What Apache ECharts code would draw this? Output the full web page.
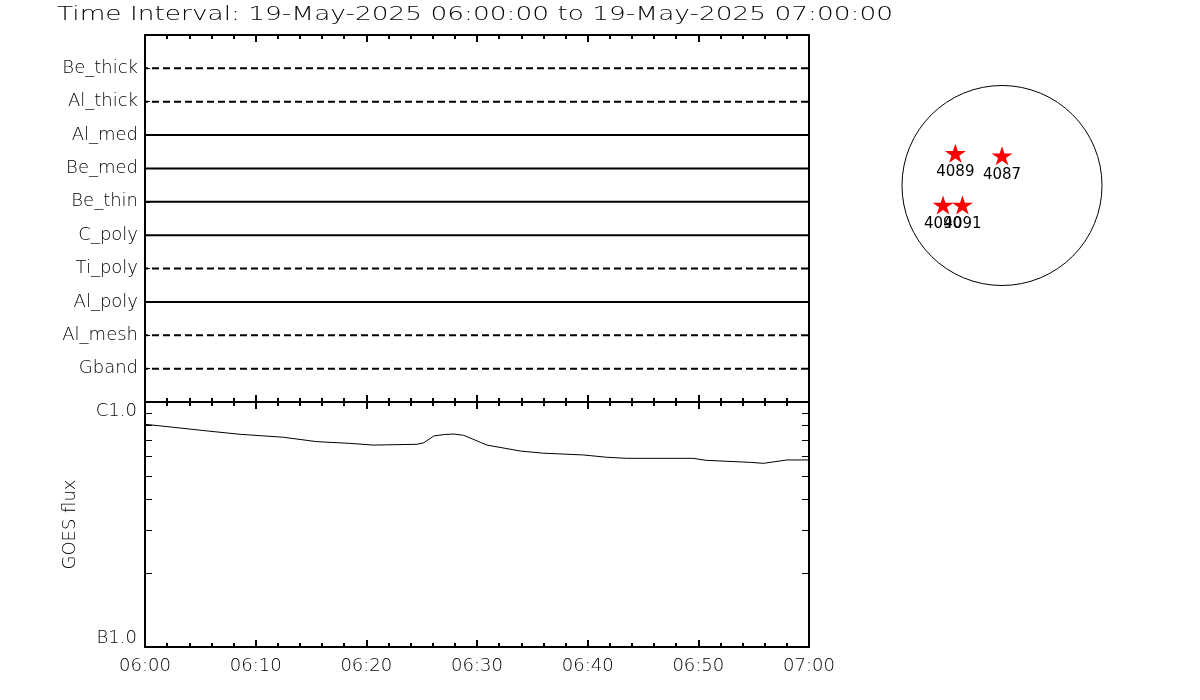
<!DOCTYPE html>
<html><head><meta charset="utf-8">
<script src="https://cdn.jsdelivr.net/npm/echarts@6/dist/echarts.min.js"></script>
<style>html,body{margin:0;padding:0;background:#fff}#c{width:1200px;height:700px}</style>
</head><body><div id="c"></div>
<script>
// ---------------- data ----------------
const titleText = 'Time Interval: 19-May-2025 06:00:00 to 19-May-2025 07:00:00';
const channels = ['Be_thick','Al_thick','Al_med','Be_med','Be_thin','C_poly','Ti_poly','Al_poly','Al_mesh','Gband'];
const channelActive = [false,false,true,true,true,true,false,true,false,false];
const timeLabels = ['06:00','06:10','06:20','06:30','06:40','06:50','07:00'];
const goesMinutes = [0, 2.6, 5.6, 8.6, 12.5, 15.5, 18.5, 20.6, 24.6, 25.2, 26.1, 27.0, 27.9, 28.8, 30.3, 30.9, 33.9, 36.0, 39.6, 41.7, 43.5, 49.5, 50.7, 54.7, 55.9, 58.0, 60];
const goesFlux = [8.11e-7, 7.88e-7, 7.62e-7, 7.38e-7, 7.18e-7, 6.89e-7, 6.78e-7, 6.67e-7, 6.72e-7, 6.82e-7, 7.27e-7, 7.36e-7, 7.40e-7, 7.31e-7, 6.85e-7, 6.67e-7, 6.31e-7, 6.18e-7, 6.08e-7, 5.95e-7, 5.89e-7, 5.89e-7, 5.78e-7, 5.67e-7, 5.62e-7, 5.80e-7, 5.80e-7];
const fluxTicks = [1e-7, 2e-7, 3e-7, 4e-7, 5e-7, 6e-7, 7e-7, 8e-7, 9e-7, 1e-6];
const fluxLabelValues = [1e-7, 1e-6];
const fluxLabels = ['B1.0', 'C1.0'];
const regionIds = ['4089', '4087', '4090', '4091'];
const regionX = [-443, 0, -560, -376];
const regionY = [306, 283, -185, -185];
const RSUN = 950;

// ---------------- layout / style ----------------
const FONT = "'DejaVu Sans', sans-serif";
const FW = 200;
const AXW = 2;
const chart = echarts.init(document.getElementById('c'), null, {renderer: 'canvas'});

const ctx = document.createElement('canvas').getContext('2d');
ctx.font = FW + ' 19px "DejaVu Sans"';
const titleScale = 836 / ctx.measureText(titleText).width;

function timeAxis(gridIndex, position, showLabel) {
  return {
    type: 'value', gridIndex: gridIndex, position: position, min: 0, max: 60, interval: 10,
    axisLine: {show: true, onZero: false, lineStyle: {color: '#000', width: AXW}},
    axisTick: {show: true, inside: true, length: 7, lineStyle: {color: '#000', width: 2}},
    minorTick: {show: true, splitNumber: 5, length: 4, lineStyle: {color: '#000', width: 2}},
    splitLine: {show: false}, minorSplitLine: {show: false},
    axisLabel: {show: showLabel, margin: 10, color: '#000', fontFamily: FONT, fontWeight: FW, fontSize: 18,
      formatter: function (v) { return timeLabels[Math.round(v / 10)]; }}
  };
}
function fluxAxis(position, showLabel) {
  return {
    type: 'log', logBase: 10, gridIndex: 1, position: position, min: 1e-7, max: 1e-6,
    axisLine: {show: true, onZero: false, lineStyle: {color: '#000', width: AXW}},
    axisTick: {show: true, inside: true, length: 7, customValues: fluxTicks, lineStyle: {color: '#000', width: 1}},
    splitLine: {show: false},
    axisLabel: {show: showLabel, customValues: fluxLabelValues, margin: 8, color: '#000', fontFamily: FONT, fontWeight: FW, fontSize: 18,
      verticalAlignMinLabel: 'bottom', verticalAlignMaxLabel: 'top',
      formatter: function (v) { return v > 5e-7 ? fluxLabels[1] : fluxLabels[0]; }},
    name: showLabel ? 'GOES flux' : '', nameLocation: 'middle', nameGap: 66, nameRotate: 90,
    nameTextStyle: {color: '#000', fontFamily: FONT, fontWeight: FW, fontSize: 18}
  };
}

const channelSeries = channels.map(function (name, i) {
  const level = channels.length - i;
  return {
    type: 'line', name: name, xAxisIndex: 0, yAxisIndex: 0, silent: true,
    showSymbol: false, symbol: 'none', animation: false,
    data: [[0, level], [60, level]],
    lineStyle: {color: '#000', width: 2, type: channelActive[i] ? 'solid' : [7, 4], dashOffset: -7}
  };
});

const starPath = 'path://M50,0 L61,35 L98,35 L68,57 L79,91 L50,70 L21,91 L32,57 L2,35 L39,35 Z';

const option = {
  backgroundColor: '#fff',
  animation: false,
  graphic: [{
    type: 'text', x: 57, y: 15, scaleX: titleScale, scaleY: 1,
    style: {text: titleText, font: FW + ' 19px ' + FONT, fill: '#000',
      align: 'left', verticalAlign: 'middle', textAlign: 'left', textVerticalAlign: 'middle'}
  }],
  grid: [
    {left: 145, top: 35, width: 664, height: 367},
    {left: 145, top: 402, width: 664, height: 245},
    {left: 892, top: 75.5, width: 220, height: 220}
  ],
  xAxis: [
    timeAxis(0, 'bottom', false),
    timeAxis(0, 'top', false),
    timeAxis(1, 'bottom', true),
    timeAxis(1, 'top', false),
    {type: 'value', gridIndex: 2, min: -RSUN * 1.1, max: RSUN * 1.1, show: false}
  ],
  yAxis: [
    {type: 'value', gridIndex: 0, position: 'left', min: 0, max: channels.length + 1, interval: 1,
      axisLine: {show: true, onZero: false, lineStyle: {color: '#000', width: AXW}},
      axisTick: {show: true, inside: true, length: 5, lineStyle: {color: '#000', width: 1}},
      splitLine: {show: false},
      axisLabel: {margin: 7, color: '#000', fontFamily: FONT, fontWeight: FW, fontSize: 18,
        formatter: function (v) { const i = channels.length - v; return (i >= 0 && i < channels.length) ? channels[i] : ''; }}},
    {type: 'value', gridIndex: 0, position: 'right', min: 0, max: channels.length + 1, interval: 1,
      axisLine: {show: true, onZero: false, lineStyle: {color: '#000', width: AXW}},
      axisTick: {show: false}, axisLabel: {show: false}, splitLine: {show: false}},
    fluxAxis('left', true),
    fluxAxis('right', false),
    {type: 'value', gridIndex: 2, min: -RSUN * 1.1, max: RSUN * 1.1, show: false}
  ],
  series: channelSeries.concat([
    {
      type: 'line', name: 'GOES', xAxisIndex: 2, yAxisIndex: 2, showSymbol: false, symbol: 'none',
      data: goesMinutes.map(function (t, i) { return [t, goesFlux[i]]; }),
      lineStyle: {color: '#000', width: 1}
    },
    {
      type: 'custom', name: 'disk', xAxisIndex: 4, yAxisIndex: 4, silent: true,
      data: [[0, 0, RSUN]],
      renderItem: function (params, api) {
        const c = api.coord([api.value(0), api.value(1)]);
        const r = api.size([api.value(2), 0])[0];
        return {type: 'circle', shape: {cx: c[0], cy: c[1], r: r},
          style: {fill: 'none', stroke: '#000', lineWidth: 1}};
      }
    },
    {
      type: 'scatter', name: 'regions', xAxisIndex: 4, yAxisIndex: 4, symbol: starPath,
      symbolSize: [21, 20], symbolKeepAspect: true,
      itemStyle: {color: '#ff0000', opacity: 1},
      data: regionIds.map(function (id, i) { return {name: id, value: [regionX[i], regionY[i]]}; }),
      label: {show: true, position: 'bottom', distance: 2, formatter: '{b}', color: '#000',
        fontFamily: FONT, fontWeight: 'normal', fontSize: 15}
    }
  ])
};
chart.setOption(option);
</script>
</body></html>
